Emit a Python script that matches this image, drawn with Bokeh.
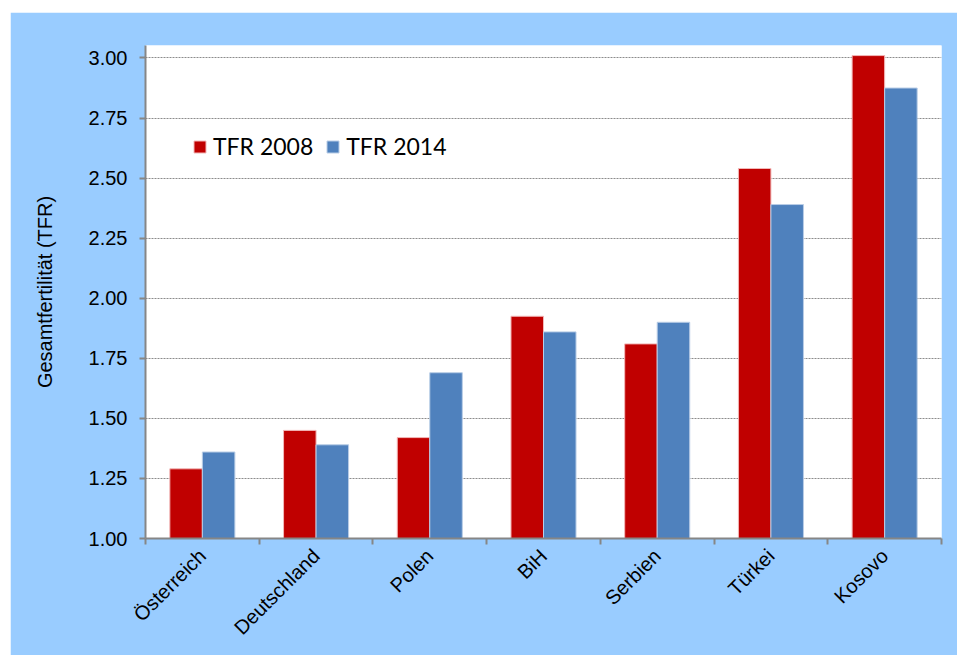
import math
from bokeh.plotting import figure
from bokeh.models import (ColumnDataSource, FixedTicker, Range1d, Legend, LegendItem,
                          NumeralTickFormatter, Spacer)
from bokeh.layouts import column, row
from bokeh.embed import file_html
from bokeh.resources import INLINE

categories = ["Österreich", "Deutschland", "Polen", "BiH", "Serbien", "Türkei", "Kosovo"]
tfr_2008 = [1.29, 1.45, 1.42, 1.925, 1.81, 2.54, 3.01]
tfr_2014 = [1.36, 1.39, 1.69, 1.86, 1.90, 2.39, 2.875]
series_names = ["TFR 2008", "TFR 2014"]
y_ticks = [1.00, 1.25, 1.50, 1.75, 2.00, 2.25, 2.50, 2.75, 3.00]

BLUE_BG = "#99CCFF"
RED = "#C00000"
BLUE = "#4F81BD"
AXIS = "#868686"

n = len(categories)
centers = [i + 0.5 for i in range(n)]
bar_w = 0.286
src = ColumnDataSource(dict(
    x08=[c - bar_w / 2 for c in centers],
    x14=[c + bar_w / 2 for c in centers],
    v08=tfr_2008,
    v14=tfr_2014,
))

p = figure(width=947, height=643, output_backend="svg", toolbar_location=None,
           x_range=Range1d(0, n), y_range=Range1d(1.0, 3.052))
p.min_border_left = 135
p.min_border_right = 16
p.min_border_top = 33
p.min_border_bottom = 117
p.border_fill_color = BLUE_BG
p.background_fill_color = "white"
p.outline_line_color = None

r08 = p.vbar(x="x08", top="v08", bottom=1.0, width=bar_w, source=src,
             fill_color=RED, line_color="#f2b8b8", line_width=1)
r14 = p.vbar(x="x14", top="v14", bottom=1.0, width=bar_w, source=src,
             fill_color=BLUE, line_color="#b9cde6", line_width=1)

# x axis: labels at centers, tick marks at category boundaries
xt = FixedTicker(ticks=centers, minor_ticks=list(range(n + 1)))
p.xaxis.ticker = xt
p.xaxis.major_label_overrides = {c: cat for c, cat in zip(centers, categories)}
p.xaxis.major_label_orientation = math.pi / 4
p.xaxis.major_tick_out = 0
p.xaxis.major_tick_in = 0
p.xaxis.minor_tick_out = 6
p.xaxis.minor_tick_in = 0
p.xaxis.minor_tick_line_color = AXIS
p.xaxis.minor_tick_line_width = 2
p.xaxis.axis_line_color = AXIS
p.xaxis.axis_line_width = 2
p.xaxis.major_label_text_font = "Liberation Sans"
p.xaxis.major_label_text_font_size = "20px"
p.xaxis.major_label_text_color = "black"
p.xaxis.major_label_standoff = 8
p.xgrid.grid_line_color = None

# y axis
p.yaxis.ticker = FixedTicker(ticks=y_ticks)
p.yaxis.formatter = NumeralTickFormatter(format="0.00")
p.yaxis.major_tick_out = 6
p.yaxis.major_tick_in = 0
p.yaxis.minor_tick_line_color = None
p.yaxis.major_tick_line_color = AXIS
p.yaxis.major_tick_line_width = 2
p.yaxis.axis_line_color = AXIS
p.yaxis.axis_line_width = 2
p.yaxis.major_label_text_font = "Liberation Sans"
p.yaxis.major_label_text_font_size = "20px"
p.yaxis.major_label_text_color = "black"
p.yaxis.major_label_standoff = 12
p.yaxis.axis_label = "Gesamtfertilität (TFR)"
p.yaxis.axis_label_text_font = "Liberation Sans"
p.yaxis.axis_label_text_font_size = "20px"
p.yaxis.axis_label_text_font_style = "normal"
p.yaxis.axis_label_text_color = "black"
p.yaxis.axis_label_standoff = 30
p.ygrid.ticker = FixedTicker(ticks=y_ticks[1:])
p.ygrid.grid_line_color = "#8c8c8c"
p.ygrid.grid_line_dash = "2 1"
p.ygrid.grid_line_width = 1

legend = Legend(items=[LegendItem(label=series_names[0], renderers=[r08]),
                       LegendItem(label=series_names[1], renderers=[r14])],
                orientation="horizontal", location=(47, 378),
                background_fill_alpha=0, border_line_color=None,
                padding=0, margin=0, spacing=12, label_standoff=6,
                glyph_width=15, glyph_height=15,
                label_text_font="Lato", label_text_font_size="23px",
                label_text_color="black")
p.add_layout(legend)

layout = column(Spacer(height=12, width=10), row(Spacer(width=10, height=10), p))
open("out.html", "w").write(file_html(layout, INLINE))
